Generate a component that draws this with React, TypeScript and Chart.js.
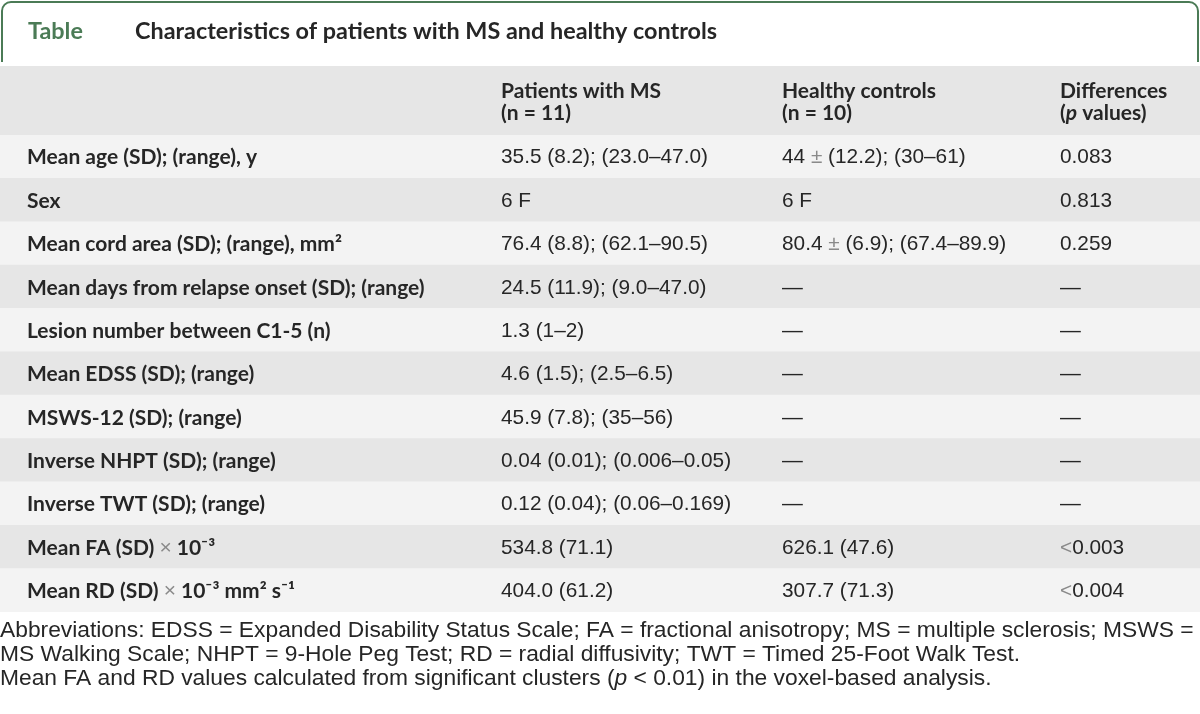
import React, { useEffect, useRef } from "react";
import { Chart, registerables } from "chart.js";

Chart.register(...registerables);

const tableTag = "Table";
const tableTitle = "Characteristics of patients with MS and healthy controls";
const columnHeaders = [
  ["Patients with MS", "(n = 11)"],
  ["Healthy controls", "(n = 10)"],
  ["Differences", "(p values)"],
];
const rowLabels = [
  "Mean age (SD); (range), y",
  "Sex",
  "Mean cord area (SD); (range), mm²",
  "Mean days from relapse onset (SD); (range)",
  "Lesion number between C1-5 (n)",
  "Mean EDSS (SD); (range)",
  "MSWS-12 (SD); (range)",
  "Inverse NHPT (SD); (range)",
  "Inverse TWT (SD); (range)",
  "Mean FA (SD) × 10⁻³",
  "Mean RD (SD) × 10⁻³ mm² s⁻¹",
];
const msValues = [
  "35.5 (8.2); (23.0–47.0)",
  "6 F",
  "76.4 (8.8); (62.1–90.5)",
  "24.5 (11.9); (9.0–47.0)",
  "1.3 (1–2)",
  "4.6 (1.5); (2.5–6.5)",
  "45.9 (7.8); (35–56)",
  "0.04 (0.01); (0.006–0.05)",
  "0.12 (0.04); (0.06–0.169)",
  "534.8 (71.1)",
  "404.0 (61.2)",
];
const hcValues = [
  "44 ± (12.2); (30–61)",
  "6 F",
  "80.4 ± (6.9); (67.4–89.9)",
  "—",
  "—",
  "—",
  "—",
  "—",
  "—",
  "626.1 (47.6)",
  "307.7 (71.3)",
];
const pValues = ["0.083", "0.813", "0.259", "—", "—", "—", "—", "—", "—", "<0.003", "<0.004"];
const footnotes = [
  "Abbreviations: EDSS = Expanded Disability Status Scale; FA = fractional anisotropy; MS = multiple sclerosis; MSWS =",
  "MS Walking Scale; NHPT = 9-Hole Peg Test; RD = radial diffusivity; TWT = Timed 25-Foot Walk Test.",
  "Mean FA and RD values calculated from significant clusters (p < 0.01) in the voxel-based analysis.",
];
const rowFill = [1, 1, 1, 1, 1, 1, 1, 1, 1, 1, 1];

const W = 1200;
const H = 714;
const GREEN = "#4b7b56";
const TEXT = "#262626";
const LIGHT = "#f3f3f3";
const DARK = "#e6e6e6";
const colX = [27, 501, 782, 1060];
const HEAD_FONT = "bold 21px Lato";
const HEAD_ITALIC = "italic bold 21px Lato";
const TITLE_FONT = "bold 23.4px Lato";
const LABEL_FONT = "bold 21px Lato";
const DATA_FONT = "20.8px 'Liberation Sans', Arial, sans-serif";
const NOTE_FONT = "22.8px 'Liberation Sans', Arial, sans-serif";
const NOTE_ITALIC = "italic 22.8px 'Liberation Sans', Arial, sans-serif";

type Seg = { t: string; f: string; c?: string };

function drawSegments(ctx: CanvasRenderingContext2D, segs: Seg[], x: number, y: number) {
  let cx = x;
  for (const s of segs) {
    ctx.font = s.f;
    ctx.fillStyle = s.c || TEXT;
    ctx.fillText(s.t, cx, y);
    cx += ctx.measureText(s.t).width;
  }
}

function dataSegs(text: string): Seg[] {
  const out: Seg[] = [];
  let buf = "";
  for (const ch of text) {
    if (ch === "±" || ch === "<") {
      if (buf) out.push({ t: buf, f: DATA_FONT });
      buf = "";
      out.push({ t: ch, f: DATA_FONT, c: "#8a8a8a" });
    } else buf += ch;
  }
  if (buf) out.push({ t: buf, f: DATA_FONT });
  return out;
}

function labelSegs(text: string): Seg[] {
  const out: Seg[] = [];
  let buf = "";
  for (const ch of text) {
    if (ch === "×") {
      if (buf) out.push({ t: buf, f: LABEL_FONT });
      buf = "";
      out.push({ t: ch, f: "21px 'Liberation Sans', Arial, sans-serif", c: "#8a8a8a" });
    } else buf += ch;
  }
  if (buf) out.push({ t: buf, f: LABEL_FONT });
  return out;
}

const tablePlugin = {
  id: "tablePlugin",
  beforeDatasetsDraw(chart: any) {
    const ctx: CanvasRenderingContext2D = chart.ctx;
    const top = chart.chartArea.top;
    ctx.save();
    ctx.strokeStyle = GREEN;
    ctx.lineWidth = 2;
    const r = 9;
    ctx.beginPath();
    ctx.moveTo(2, 62);
    ctx.lineTo(2, 2 + r);
    ctx.arcTo(2, 2, 2 + r, 2, r);
    ctx.lineTo(W - 2 - r, 2);
    ctx.arcTo(W - 2, 2, W - 2, 2 + r, r);
    ctx.lineTo(W - 2, 62);
    ctx.stroke();
    ctx.fillStyle = DARK;
    ctx.fillRect(0, 66, W, top - 66);
    ctx.restore();
  },
  afterDatasetsDraw(chart: any) {
    const ctx: CanvasRenderingContext2D = chart.ctx;
    const yScale = chart.scales.y;
    ctx.save();
    ctx.textBaseline = "middle";
    ctx.textAlign = "left";
    ctx.font = TITLE_FONT;
    ctx.fillStyle = GREEN;
    ctx.fillText(tableTag, 28, 31);
    ctx.fillStyle = TEXT;
    ctx.fillText(tableTitle, 135, 31);
    columnHeaders.forEach((lines, i) => {
      const x = colX[i + 1];
      drawSegments(ctx, [{ t: lines[0], f: HEAD_FONT }], x, 91);
      if (lines[1].startsWith("(p")) {
        drawSegments(
          ctx,
          [
            { t: "(", f: HEAD_FONT },
            { t: "p", f: HEAD_ITALIC },
            { t: lines[1].slice(2), f: HEAD_FONT },
          ],
          x,
          113
        );
      } else {
        drawSegments(ctx, [{ t: lines[1], f: HEAD_FONT }], x, 113);
      }
    });
    rowLabels.forEach((label, i) => {
      const y = yScale.getPixelForValue(i) + 1;
      drawSegments(ctx, labelSegs(label), colX[0], y);
      drawSegments(ctx, dataSegs(msValues[i]), colX[1], y);
      drawSegments(ctx, dataSegs(hcValues[i]), colX[2], y);
      drawSegments(ctx, dataSegs(pValues[i]), colX[3], y);
    });
    const fy = [631, 655, 679];
    footnotes.forEach((line, i) => {
      if (line.includes("(p <")) {
        const idx = line.indexOf("(p <");
        drawSegments(
          ctx,
          [
            { t: line.slice(0, idx + 1), f: NOTE_FONT },
            { t: "p", f: NOTE_ITALIC },
            { t: line.slice(idx + 2), f: NOTE_FONT },
          ],
          0,
          fy[i]
        );
      } else {
        drawSegments(ctx, [{ t: line, f: NOTE_FONT }], 0, fy[i]);
      }
    });
    ctx.restore();
  },
};

export default function App() {
  const ref = useRef<HTMLCanvasElement>(null);
  useEffect(() => {
    document.body.style.margin = "0";
    document.body.style.background = "#ffffff";
    const canvas = ref.current!;
    const chart = new Chart(canvas, {
      type: "bar",
      data: {
        labels: rowLabels,
        datasets: [
          {
            data: rowFill,
            backgroundColor: rowLabels.map((_, i) => (i % 2 === 0 ? LIGHT : DARK)),
            borderWidth: 0,
            barPercentage: 1,
            categoryPercentage: 1,
          },
        ],
      },
      options: {
        indexAxis: "y",
        responsive: false,
        animation: false,
        layout: { padding: { top: 135, bottom: H - 612, left: 0, right: 0 } },
        scales: {
          x: { display: false, min: 0, max: 1 },
          y: { display: false },
        },
        plugins: { legend: { display: false }, tooltip: { enabled: false } },
        events: [],
      },
      plugins: [tablePlugin],
    });
    return () => chart.destroy();
  }, []);
  return <canvas ref={ref} width={W} height={H} style={{ display: "block" }} />;
}
